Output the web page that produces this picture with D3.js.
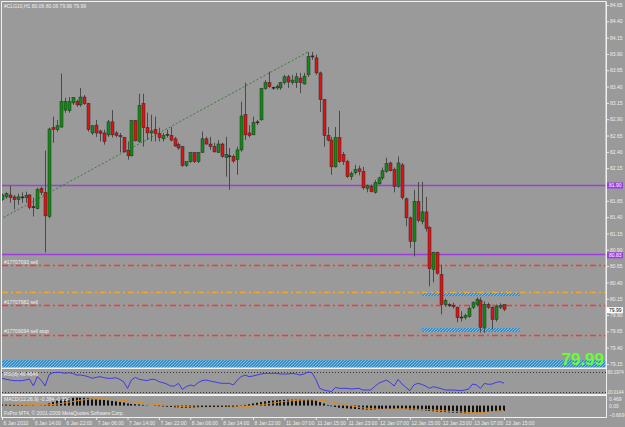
<!DOCTYPE html>
<html>
<head>
<meta charset="utf-8">
<script src="https://cdn.jsdelivr.net/npm/d3@7"></script>
<style>
    body { margin: 0; background: #9a9a9a; }
    svg { display: block; font-family: "Liberation Sans", Arial, sans-serif; }
</style>
</head>
<body>
<div id="chart"></div>
<script>
// #CLG10 H1 bars (index 0 = 6 Jan 06:00)
var opens = [
    81.67, 81.71, 81.74, 81.71, 81.67, 81.70, 81.70, 81.74, 81.55, 81.53,
    81.84, 81.78, 81.41, 82.77, 82.74, 82.78, 83.04, 83.03, 83.15, 83.17,
    83.12, 83.24, 83.14, 82.69, 82.81, 82.72, 82.69, 82.66, 82.86, 82.69,
    82.65, 82.62, 82.42, 82.34, 82.88, 82.56, 83.14, 82.77, 82.69, 82.74,
    82.68, 82.60, 82.66, 82.65, 82.60, 82.51, 82.48, 82.19, 82.25, 82.39,
    82.25, 82.39, 82.60, 82.52, 82.48, 82.39, 82.52, 82.31, 82.34, 82.33,
    82.28, 82.43, 82.97, 82.69, 82.66, 82.86, 82.89, 83.37, 83.46, 83.39,
    83.38, 83.38, 83.46, 83.55, 83.46, 83.46, 83.53, 83.44, 83.58, 83.86,
    83.84, 83.61, 83.20, 82.65, 82.58, 82.17, 82.62, 82.36, 82.25, 82.02,
    82.08, 82.14, 82.10, 81.84, 81.87, 81.78, 81.91, 82.00, 82.10, 82.23,
    82.13, 81.87, 82.20, 81.68, 81.39, 81.03, 81.64, 81.33, 81.48, 81.24,
    80.60, 80.86, 80.52, 80.06, 80.06, 80.05, 80.02, 79.86, 79.86, 79.88,
    80.02, 80.06, 80.12, 79.71, 80.06, 80.02, 79.83, 80.02, 80.06
];
var highs = [
    81.76, 81.78, 81.88, 81.74, 81.76, 81.78, 81.79, 81.75, 81.70, 81.85,
    81.87, 82.42, 82.77, 82.94, 82.89, 83.60, 83.23, 83.24, 83.24, 83.20,
    83.38, 83.27, 83.15, 82.81, 82.89, 82.74, 82.74, 82.89, 83.04, 82.72,
    82.69, 82.63, 82.56, 82.89, 82.89, 83.29, 83.29, 83.00, 82.97, 82.94,
    82.77, 82.69, 82.74, 82.78, 82.63, 82.54, 82.49, 82.25, 82.40, 82.39,
    82.40, 82.71, 82.63, 82.63, 82.54, 82.58, 82.54, 82.63, 82.46, 82.36,
    82.48, 83.17, 83.46, 82.81, 82.94, 82.89, 83.38, 83.50, 83.63, 83.40,
    83.43, 83.47, 83.58, 83.58, 83.58, 83.61, 83.61, 83.61, 83.93, 83.93,
    83.89, 83.63, 83.21, 82.78, 82.63, 82.78, 83.03, 82.40, 82.28, 82.10,
    82.20, 82.19, 82.17, 81.90, 81.90, 81.97, 82.02, 82.16, 82.31, 82.25,
    82.16, 82.33, 82.23, 81.70, 81.41, 81.82, 81.94, 81.94, 81.71, 81.26,
    80.87, 80.87, 80.67, 80.15, 80.08, 80.09, 80.03, 79.96, 79.92, 80.03,
    80.11, 80.17, 80.17, 80.11, 80.09, 80.03, 80.06, 80.08, 80.06
];
var lows = [
    81.65, 81.68, 81.62, 81.52, 81.59, 81.62, 81.62, 81.52, 81.41, 81.52,
    81.74, 80.86, 81.38, 82.54, 82.71, 82.77, 83.00, 83.00, 83.12, 83.09,
    83.09, 83.12, 82.71, 82.66, 82.63, 82.56, 82.51, 82.63, 82.62, 82.62,
    82.39, 82.39, 82.28, 82.33, 82.56, 82.54, 82.48, 82.58, 82.56, 82.56,
    82.56, 82.56, 82.62, 82.56, 82.48, 82.43, 82.17, 82.17, 82.23, 82.23,
    82.23, 82.39, 82.51, 82.43, 82.39, 82.39, 82.31, 82.02, 81.82, 82.23,
    82.05, 82.40, 82.58, 82.62, 82.66, 82.81, 82.88, 83.35, 83.38, 83.35,
    83.35, 83.35, 83.43, 83.38, 83.43, 83.38, 83.30, 83.43, 83.55, 83.81,
    83.58, 83.01, 82.48, 82.56, 82.05, 82.16, 82.23, 82.20, 82.00, 81.97,
    82.05, 82.04, 81.82, 81.78, 81.78, 81.76, 81.90, 81.97, 82.08, 82.10,
    81.78, 81.85, 81.67, 81.26, 80.93, 80.80, 81.32, 81.29, 81.18, 80.34,
    80.40, 80.52, 79.91, 80.03, 80.02, 80.00, 79.79, 79.80, 79.83, 79.86,
    79.99, 80.03, 79.63, 79.63, 79.99, 79.68, 79.80, 79.99, 79.96
];
var closes = [
    81.74, 81.76, 81.70, 81.67, 81.71, 81.71, 81.73, 81.55, 81.56, 81.82,
    81.78, 81.42, 82.75, 82.74, 82.80, 83.17, 83.17, 83.17, 83.23, 83.12,
    83.24, 83.14, 82.74, 82.80, 82.69, 82.68, 82.56, 82.86, 82.66, 82.65,
    82.63, 82.40, 82.34, 82.88, 82.57, 83.11, 82.77, 82.69, 82.72, 82.68,
    82.62, 82.65, 82.67, 82.58, 82.49, 82.46, 82.19, 82.25, 82.39, 82.25,
    82.39, 82.60, 82.52, 82.48, 82.40, 82.52, 82.33, 82.36, 82.33, 82.26,
    82.43, 82.95, 82.66, 82.65, 82.85, 82.85, 83.37, 83.46, 83.40, 83.38,
    83.40, 83.46, 83.55, 83.47, 83.50, 83.55, 83.46, 83.56, 83.86, 83.87,
    83.61, 83.20, 82.65, 82.58, 82.17, 82.62, 82.25, 82.25, 82.02, 82.07,
    82.13, 82.10, 81.85, 81.88, 81.79, 81.93, 82.00, 82.11, 82.22, 82.11,
    81.87, 82.23, 81.70, 81.39, 81.03, 81.64, 81.35, 81.48, 81.23, 80.61,
    80.86, 80.54, 80.06, 80.12, 80.05, 80.03, 79.86, 79.87, 79.89, 80.00,
    80.09, 80.14, 79.71, 80.06, 80.02, 79.83, 80.03, 80.05, 79.99
];

// RSI(8) values per bar
var rsiValues = [
    61, 58, 56, 54, 54, 54, 56, 59, 38, 66,
    55, 38, 72, 78, 79, 79, 76, 78, 76, 71,
    71, 69, 66, 61, 64, 66, 63, 61, 61, 63,
    58, 51, 31, 56, 64, 58, 56, 54, 58, 58,
    51, 48, 44, 38, 38, 46, 28, 36, 41, 38,
    48, 54, 56, 53, 51, 48, 46, 46, 46, 41,
    56, 66, 71, 66, 68, 71, 74, 76, 76, 76,
    76, 74, 74, 74, 76, 74, 71, 74, 80, 78,
    58, 31, 26, 24, 21, 34, 31, 31, 31, 29,
    30, 31, 26, 26, 26, 36, 46, 51, 56, 48,
    38, 58, 44, 34, 24, 41, 46, 43, 38, 31,
    36, 33, 30, 26, 26, 26, 25, 24, 26, 29,
    44, 41, 31, 46, 43, 44, 49, 51, 46.46
];

// MACD(12,26,9) main (histogram) and signal
var macdMain = [
    0.08, 0.07, 0.06, 0.05, 0.04, 0.03, 0.02, 0.01, -0.02, 0.00,
    0.02, 0.05, 0.15, 0.25, 0.35, 0.42, 0.48, 0.52, 0.55, 0.56,
    0.56, 0.55, 0.52, 0.48, 0.45, 0.42, 0.40, 0.37, 0.33, 0.30,
    0.26, 0.22, 0.15, 0.12, 0.10, 0.08, 0.05, 0.02, 0.00, -0.02,
    -0.04, -0.06, -0.08, -0.10, -0.12, -0.12, -0.15, -0.16, -0.16, -0.17,
    -0.16, -0.14, -0.12, -0.11, -0.10, -0.10, -0.10, -0.10, -0.10, -0.11,
    -0.08, -0.02, 0.05, 0.10, 0.15, 0.20, 0.25, 0.30, 0.33, 0.36,
    0.38, 0.40, 0.41, 0.42, 0.42, 0.42, 0.42, 0.41, 0.43, 0.42,
    0.35, 0.25, 0.15, 0.05, -0.05, -0.10, -0.15, -0.18, -0.20, -0.22,
    -0.24, -0.25, -0.27, -0.28, -0.29, -0.28, -0.26, -0.24, -0.22, -0.22,
    -0.23, -0.21, -0.22, -0.25, -0.30, -0.32, -0.32, -0.33, -0.35, -0.38,
    -0.40, -0.42, -0.44, -0.46, -0.48, -0.50, -0.52, -0.53, -0.54, -0.54,
    -0.52, -0.50, -0.50, -0.47, -0.45, -0.43, -0.41, -0.39, -0.384
];
var macdSignal = [
    0.15, 0.14, 0.13, 0.12, 0.11, 0.10, 0.09, 0.08, 0.07, 0.06,
    0.05, 0.05, 0.06, 0.08, 0.11, 0.15, 0.19, 0.24, 0.29, 0.34,
    0.38, 0.42, 0.45, 0.47, 0.48, 0.48, 0.47, 0.46, 0.44, 0.42,
    0.39, 0.36, 0.33, 0.29, 0.25, 0.22, 0.18, 0.15, 0.12, 0.09,
    0.06, 0.04, 0.02, 0.00, -0.02, -0.04, -0.06, -0.08, -0.09, -0.11,
    -0.12, -0.13, -0.13, -0.13, -0.13, -0.13, -0.12, -0.12, -0.11, -0.11,
    -0.10, -0.09, -0.07, -0.05, -0.02, 0.02, 0.06, 0.10, 0.14, 0.18,
    0.22, 0.26, 0.29, 0.32, 0.35, 0.37, 0.39, 0.40, 0.41, 0.41,
    0.41, 0.39, 0.36, 0.32, 0.27, 0.22, 0.16, 0.10, 0.04, -0.02,
    -0.07, -0.12, -0.16, -0.19, -0.22, -0.24, -0.25, -0.26, -0.26, -0.26,
    -0.25, -0.25, -0.24, -0.24, -0.24, -0.25, -0.26, -0.27, -0.28, -0.30,
    -0.32, -0.34, -0.36, -0.38, -0.40, -0.42, -0.44, -0.46, -0.47, -0.49,
    -0.50, -0.50, -0.49, -0.48, -0.46, -0.43, -0.40, -0.38, -0.364
];

// time axis labels (one every 8 bars)
var timeLabelBars = [0, 8, 16, 24, 32, 40, 48, 56, 64, 72, 80, 88, 96, 104, 112, 120, 128];
var timeLabels = ["6 Jan 2010", "6 Jan 14:00", "6 Jan 22:00", "7 Jan 06:00", "7 Jan 14:00",
    "7 Jan 22:00", "8 Jan 06:00", "8 Jan 14:00", "8 Jan 22:00", "11 Jan 07:00", "11 Jan 15:00",
    "11 Jan 23:00", "12 Jan 07:00", "12 Jan 15:00", "12 Jan 23:00", "13 Jan 07:00", "13 Jan 15:00"];

var priceTicks = [84.65, 84.40, 84.15, 83.90, 83.65, 83.40, 83.15, 82.90, 82.65, 82.40, 82.15,
    81.90, 81.65, 81.40, 81.15, 80.90, 80.65, 80.40, 80.15, 79.90, 79.65, 79.40, 79.15];

// horizontal lines on the chart
var levelPrices = [81.90, 80.83];
var orderPrices = [80.66, 80.26, 80.05, 79.60];
var orderLabels = ["#17707093 sell", "", "#17707982 sell", "#17709094 sell stop"];
var orderKinds = ["order", "tp", "order", "order"];

// rectangles: [bar start, bar end] and [price top, price bottom]
var zoneBars = [[107, 132], [107, 132], [-2, 160]];
var zonePrices = [[80.24, 80.19], [79.70, 79.64], [79.21, 79.05]];

// trend line from bar 0 to bar 78
var trendBars = [0, 78];
var trendPrices = [81.38, 83.93];

var rsiLevels = [80, 20];
var rsiLevelLabels = ["80.1974", "20.0144"];
var macdTicks = [0.469, 0, -0.669];

var lastPrice = 79.99;
var titleText = "#CLG10,H1 80.06 80.06 79.96 79.99";

function drawChart() {
    var W = 625, H = 427;
    var left = 2, right = 606;
    var mainTop = 2, mainBottom = 368;
    var rsiTop = 369, rsiBottom = 394;
    var macdTop = 396, macdBottom = 417;

    var svg = d3.select("#chart").append("svg")
        .attr("width", W).attr("height", H);

    var defs = svg.append("defs");
    var pat = defs.append("pattern")
        .attr("id", "hatch").attr("patternUnits", "userSpaceOnUse")
        .attr("width", 3).attr("height", 3);
    pat.append("rect").attr("width", 3).attr("height", 3).attr("fill", "#3d8cc2");
    pat.append("path").attr("d", "M0,3 L3,0").attr("stroke", "#7cc0e6").attr("stroke-width", 1);

    defs.append("clipPath").attr("id", "clipMain")
        .append("rect").attr("x", left).attr("y", mainTop)
        .attr("width", right - left).attr("height", mainBottom - mainTop);

    svg.append("rect").attr("width", W).attr("height", H).attr("fill", "#9a9a9a");

    // --- Scales ---
    var x = d3.scaleLinear().domain([0, 128]).range([2, 504]);
    var y = d3.scaleLinear().domain([79.15, 84.65]).range([364, 5]);
    var yRsi = d3.scaleLinear().domain([20, 80]).range([392, 372]);
    var yMacd = d3.scaleLinear().domain([-0.669, 0.469]).range([415, 399]);

    var main = svg.append("g").attr("clip-path", "url(#clipMain)");

    // zones (hatched rectangles)
    main.selectAll("rect.zone")
        .data(zoneBars.map((b, i) => ({ b: b, p: zonePrices[i] })))
        .enter().append("rect")
        .attr("class", "zone")
        .attr("x", d => x(d.b[0]))
        .attr("width", d => x(d.b[1]) - x(d.b[0]))
        .attr("y", d => y(d.p[0]))
        .attr("height", d => y(d.p[1]) - y(d.p[0]))
        .attr("fill", "url(#hatch)");

    // level lines (purple)
    main.selectAll("line.level")
        .data(levelPrices).enter().append("line")
        .attr("x1", left).attr("x2", right)
        .attr("y1", d => Math.round(y(d)) + 0.5).attr("y2", d => Math.round(y(d)) + 0.5)
        .attr("stroke", "#9c3ee0").attr("stroke-width", 1.6);

    // order lines (dash-dot)
    main.selectAll("line.order")
        .data(orderPrices).enter().append("line")
        .attr("x1", left).attr("x2", right)
        .attr("y1", d => Math.round(y(d)) + 0.5).attr("y2", d => Math.round(y(d)) + 0.5)
        .attr("stroke", (d, i) => orderKinds[i] === "tp" ? "#f0a830" : "#ff3434")
        .attr("stroke-width", 1.3)
        .attr("stroke-dasharray", "6,3,2,3");

    main.selectAll("text.order")
        .data(orderPrices).enter().append("text")
        .attr("x", 4).attr("y", d => y(d) - 1.5)
        .attr("font-size", 5).attr("fill", "#f0f0f0")
        .text((d, i) => orderLabels[i]);

    // trend line
    main.append("line")
        .attr("x1", x(trendBars[0]) - 2).attr("y1", y(trendPrices[0]) + 1)
        .attr("x2", x(trendBars[1])).attr("y2", y(trendPrices[1]))
        .attr("stroke", "#3d7a3d").attr("stroke-width", 1)
        .attr("stroke-dasharray", "2,2");

    // candles
    var bars = opens.map((o, i) => ({ i: i, o: o, h: highs[i], l: lows[i], c: closes[i] }));
    var candle = main.selectAll("g.candle").data(bars).enter().append("g");
    candle.append("line")
        .attr("x1", d => Math.round(x(d.i)) + 0.5).attr("x2", d => Math.round(x(d.i)) + 0.5)
        .attr("y1", d => y(d.h)).attr("y2", d => y(d.l))
        .attr("stroke", "#4a4a4a").attr("stroke-width", 1);
    candle.append("rect")
        .attr("x", d => Math.round(x(d.i)) - 1)
        .attr("width", 3)
        .attr("y", d => y(Math.max(d.o, d.c)))
        .attr("height", d => Math.max(1, y(Math.min(d.o, d.c)) - y(Math.max(d.o, d.c))))
        .attr("fill", d => Math.abs(d.c - d.o) < 0.015 ? "#222" : (d.c > d.o ? "#138a13" : "#e01212"))
        .attr("stroke", "#2a2a2a").attr("stroke-width", 0.5);

    // big last price
    main.append("text")
        .attr("x", 604).attr("y", 365)
        .attr("text-anchor", "end")
        .attr("font-size", 17).attr("font-weight", "bold")
        .attr("fill", "#66ff33")
        .text(lastPrice.toFixed(2));

    // title
    svg.append("text").attr("x", 4).attr("y", 8)
        .attr("font-size", 5).attr("fill", "#f0f0f0").text(titleText);

    // --- Price axis ---
    var yAxis = svg.append("g")
        .attr("transform", `translate(${right},0)`)
        .call(d3.axisRight(y).tickValues(priceTicks).tickSize(3).tickFormat(d3.format(".2f")));
    yAxis.select(".domain").remove();
    yAxis.selectAll("line").attr("stroke", "#e8e8e8");
    yAxis.selectAll("text").attr("fill", "#eeeeee").attr("font-size", 5)
        .attr("x", 4).attr("font-family", "Liberation Sans, Arial, sans-serif");

    // axis price boxes
    var boxes = levelPrices.map(p => ({ p: p, bg: "#9c3ee0", fg: "#ffffff" }))
        .concat([{ p: lastPrice, bg: "#ffffff", fg: "#000000" }]);
    var box = svg.selectAll("g.pbox").data(boxes).enter().append("g")
        .attr("transform", d => `translate(${right + 1},${y(d.p)})`);
    box.append("rect").attr("x", 0).attr("y", -2).attr("width", 16).attr("height", 6)
        .attr("fill", d => d.bg);
    box.append("text").attr("x", 2).attr("y", 2.8).attr("font-size", 5)
        .attr("fill", d => d.fg).text(d => d.p.toFixed(2));

    // --- RSI window ---
    var rsiG = svg.append("g");
    rsiG.selectAll("line.lvl").data(rsiLevels).enter().append("line")
        .attr("x1", left).attr("x2", right)
        .attr("y1", d => Math.round(yRsi(d)) + 0.5).attr("y2", d => Math.round(yRsi(d)) + 0.5)
        .attr("stroke", "#333").attr("stroke-dasharray", "1,2");
    rsiG.append("path")
        .datum(rsiValues)
        .attr("fill", "none").attr("stroke", "#3b3be6").attr("stroke-width", 1)
        .attr("d", d3.line().x((d, i) => x(i)).y(d => yRsi(d)));
    rsiG.append("text").attr("x", 4).attr("y", 376)
        .attr("font-size", 5).attr("fill", "#f0f0f0").text("RSI(8) 46.4646");
    rsiG.selectAll("text.rl").data(rsiLevelLabels).enter().append("text")
        .attr("x", right + 1.5).attr("y", (d, i) => yRsi(rsiLevels[i]) + 2)
        .attr("font-size", 4.5).attr("fill", "#eee").text(d => d);

    // --- MACD window ---
    var macdG = svg.append("g");
    macdG.selectAll("rect.hist").data(macdMain).enter().append("rect")
        .attr("x", (d, i) => Math.round(x(i)) - 1)
        .attr("width", 2)
        .attr("y", d => Math.min(yMacd(d), yMacd(0)))
        .attr("height", d => Math.abs(yMacd(d) - yMacd(0)))
        .attr("fill", "#111");
    macdG.append("path")
        .datum(macdSignal)
        .attr("fill", "none").attr("stroke", "#e08a1e").attr("stroke-width", 1)
        .attr("d", d3.line().x((d, i) => x(i)).y(d => yMacd(d)));
    macdG.append("text").attr("x", 4).attr("y", 401)
        .attr("font-size", 5).attr("fill", "#f0f0f0").text("MACD(12,26,9) -0.384 -0.364");
    macdG.append("text").attr("x", 4).attr("y", 414.5)
        .attr("font-size", 5).attr("fill", "#f0f0f0").text("FxPro MT4, \u00a9 2001-2009 MetaQuotes Software Corp.");
    macdG.selectAll("text.ml").data(macdTicks).enter().append("text")
        .attr("x", right + 3).attr("y", d => yMacd(d) + 2)
        .attr("font-size", 5).attr("fill", "#eee")
        .text(d => d === 0 ? "0.00" : d3.format(".3f")(d));

    // --- Frames ---
    var frame = svg.append("g").attr("fill", "none").attr("stroke", "#f0f0f0");
    frame.append("rect").attr("x", left - 0.5).attr("y", mainTop - 0.5)
        .attr("width", right - left + 0.5).attr("height", mainBottom - mainTop + 0.5)
        .attr("stroke-width", 1);
    frame.append("line").attr("x1", left).attr("x2", right).attr("y1", rsiTop - 0.5).attr("y2", rsiTop - 0.5);
    frame.append("line").attr("x1", left).attr("x2", right).attr("y1", rsiBottom + 0.5).attr("y2", rsiBottom + 0.5);
    frame.append("line").attr("x1", left).attr("x2", right).attr("y1", macdTop - 0.5).attr("y2", macdTop - 0.5);
    frame.append("line").attr("x1", left - 0.5).attr("x2", right + 0.5).attr("y1", macdBottom + 0.5).attr("y2", macdBottom + 0.5);
    frame.append("line").attr("x1", right + 0.5).attr("x2", right + 0.5).attr("y1", mainTop).attr("y2", macdBottom + 0.5);
    frame.append("line").attr("x1", left - 0.5).attr("x2", left - 0.5).attr("y1", mainTop).attr("y2", macdBottom + 0.5);

    // --- Time axis ---
    var xAxis = svg.append("g")
        .attr("transform", `translate(0,${macdBottom + 1})`)
        .call(d3.axisBottom(x).tickValues(timeLabelBars).tickSize(2)
            .tickFormat((d, i) => timeLabels[i]));
    xAxis.select(".domain").remove();
    xAxis.selectAll("line").attr("stroke", "#e8e8e8");
    xAxis.selectAll("text").attr("fill", "#eeeeee").attr("font-size", 5)
        .attr("text-anchor", "start").attr("dx", 1).attr("y", 3)
        .attr("font-family", "Liberation Sans, Arial, sans-serif");
}

drawChart();
</script>
</body>
</html>
